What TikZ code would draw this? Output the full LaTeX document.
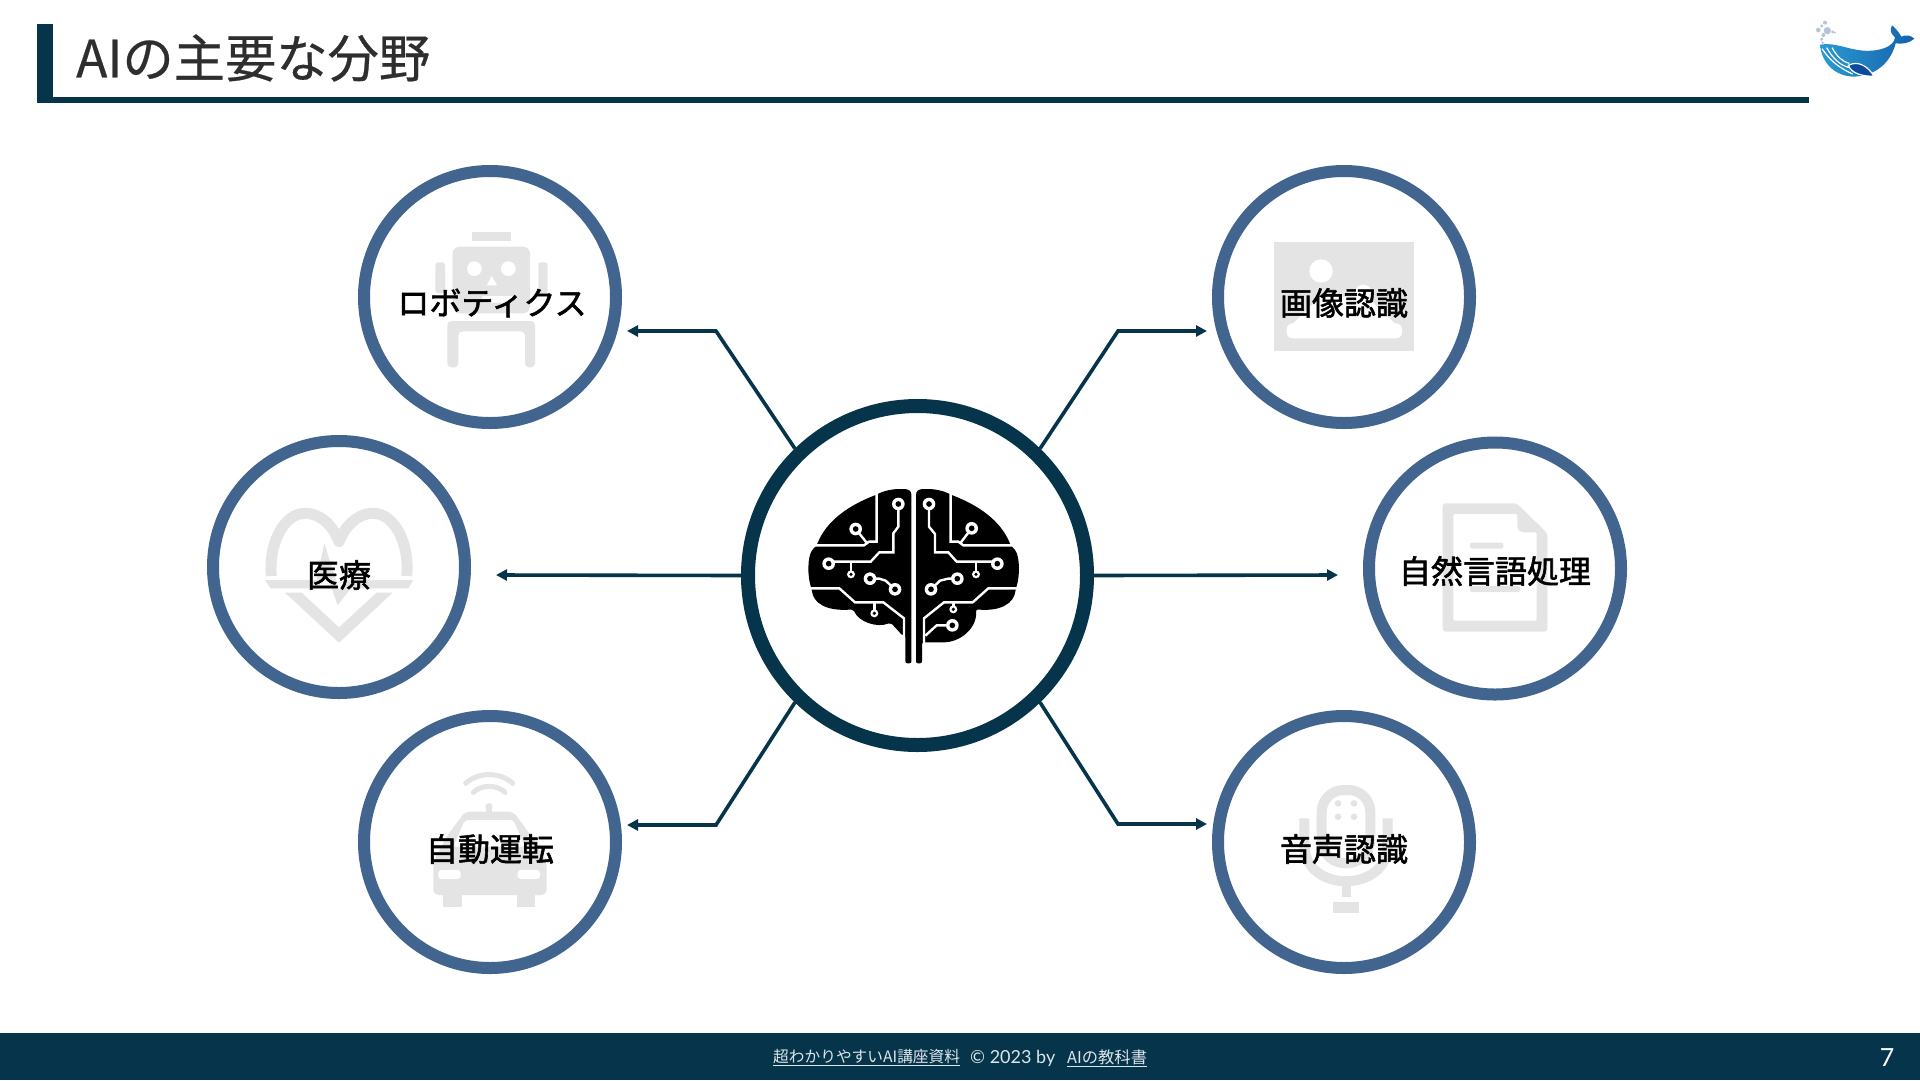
\documentclass[tikz,border=0pt]{standalone}
\usepackage{fontspec}
\usetikzlibrary{arrows.meta}
\setmainfont{Noto Sans CJK JP}
\newfontfamily\titlefont[FakeBold=0.5]{Noto Sans CJK JP}
\newfontfamily\labelfont[FakeBold=1.8]{Noto Sans CJK JP}
\newfontfamily\latinfont{Lato}
\definecolor{navy}{HTML}{06344B}
\definecolor{ringblue}{HTML}{41658F}
\definecolor{icongray}{HTML}{E4E4E4}
\definecolor{titleink}{HTML}{2E2E2E}
\definecolor{footink}{HTML}{DCE6EB}
\definecolor{whalelight}{HTML}{2A9AD2}
\definecolor{whalemid}{HTML}{0D62B4}
\definecolor{whaledark}{HTML}{0B4A9C}
\definecolor{spray}{HTML}{B9C3D8}
\tikzset{
 hubring/.style={circle,draw=navy,line width=14pt,fill=white,minimum size=339pt,inner sep=0pt},
 topicring/.style={circle,draw=ringblue,line width=12pt,fill=white,minimum size=252pt,inner sep=0pt},
 topiclabel/.style={font=\labelfont\fontsize{32}{38}\selectfont,text=black,inner sep=0pt},
 spoke/.style={draw=navy,line width=3.6pt,-{Triangle[length=11pt,width=11pt]}},
 footnote/.style={font=\fontsize{15.7}{20}\selectfont,text=footink,inner sep=0pt,anchor=west},
 circuit/.style={draw=white,line width=2.4pt},
 zoomed/.style={x=0.33333pt,y=-0.33333pt},
}
\newcommand{\ringpad}[3]{\fill[white] (#1,#2) circle (#3); \fill[black] (#1,#2) circle (#3*0.45);}
\begin{document}
\begin{tikzpicture}[x=1pt,y=-1pt]
\useasboundingbox (0,0) rectangle (1920,1080);
\fill[white] (0,0) rectangle (1920,1080);
% header
\fill[navy] (37,24) rectangle (53,103);
\fill[navy] (37,97) rectangle (1809,103);
\node[anchor=west,inner sep=0pt,text=titleink,font=\titlefont\fontsize{51.3}{60}\selectfont] (title) at (76,58) {AIの主要な分野};
% footer
\fill[navy] (0,1033) rectangle (1920,1080);
\node[footnote] (src) at (773,1058) {\underline{超わかりやすいAI講座資料}};
\node[footnote,font=\latinfont\fontsize{18}{20}\selectfont] (copy) at (970,1058) {© 2023 by};
\node[footnote,font=\fontsize{16.3}{20}\selectfont] (site) at (1067,1058) {\underline{AIの教科書}};
\node[inner sep=0pt,text=white,font=\latinfont\fontsize{25}{30}\selectfont] (page) at (1887,1058) {7};
% whale
\begin{scope}[shift={(1780,0)},zoomed]
 \foreach \px/\py/\pr in {135/68/6,125/78/5,115/90/7,142/92/11,158/96/5,130/105/6,125/118/5,165/98/3,128/128/4}{\fill[spray] (\px,\py) circle (\pr);}
 \shade[left color=whalelight,middle color=whalemid,right color=whaledark!70!whalelight]
   (120,134) .. controls (165,126) and (200,148) .. (250,152) .. controls (300,155) and (342,140) .. (345,112)
   .. controls (332,100) and (328,90) .. (336,76) .. controls (348,85) and (358,100) .. (364,110)
   .. controls (378,103) and (392,106) .. (403,116) .. controls (388,130) and (365,133) .. (347,130)
   .. controls (330,195) and (280,228) .. (220,230) .. controls (165,228) and (125,190) .. (120,134) -- cycle;
 \draw[white,line width=1.2pt] (126,146) .. controls (148,178) and (170,200) .. (218,222);
 \draw[white,line width=1.2pt] (140,143) .. controls (160,178) and (180,195) .. (208,203);
 \draw[white,line width=1.2pt] (156,143) .. controls (170,168) and (185,184) .. (208,190);
 \draw[white,line width=1.2pt,fill=whaledark] (205,196) .. controls (235,180) and (265,200) .. (282,229) .. controls (250,229) and (215,222) .. (205,196) -- cycle;
\end{scope}
% ring nodes
\node[topicring] (robot) at (490,297) {};
\node[topicring] (image) at (1344,297) {};
\node[topicring] (medical) at (339,567) {};
\node[topicring] (nlp) at (1495,568.5) {};
\node[topicring] (auto) at (490,842) {};
\node[topicring] (voice) at (1344,842) {};
\node[hubring] (hub) at (917.5,575.5) {};
% connector ends
\coordinate (bendA) at (716,331); \coordinate (endA) at (627,331);
\coordinate (bendB) at (1118,331); \coordinate (endB) at (1207,331);
\coordinate (endC) at (496,575); \coordinate (endD) at (1338,575);
\coordinate (bendE) at (716,825); \coordinate (endE) at (627,825);
\coordinate (bendF) at (1118,824); \coordinate (endF) at (1207,824);
\draw[spoke] (hub.134) -- (bendA) -- (endA);
\draw[spoke] (hub.46) -- (bendB) -- (endB);
\draw[spoke] (hub.180) -- (endC);
\draw[spoke] (hub.0) -- (endD);
\draw[spoke] (hub.226) -- (bendE) -- (endE);
\draw[spoke] (hub.314) -- (bendF) -- (endF);
% brain
\begin{scope}[shift={(720,390)},zoomed]
 \fill[black,rounded corners=2pt] (574,812) -- (574,320) .. controls (574,302) and (565,297) .. (545,297)
  .. controls (515,297) and (490,303) .. (467,315) .. controls (390,345) and (320,390) .. (290,466)
  -- (280,476) .. controls (262,500) and (262,560) .. (275,597) .. controls (280,640) and (320,665) .. (400,658)
  .. controls (415,695) and (470,715) .. (512,698) -- (548,737) -- (556,737) -- (556,820) -- (574,820) -- cycle;
 \fill[black,rounded corners=2pt] (588,820) -- (588,320) .. controls (588,302) and (597,297) .. (617,297)
  .. controls (647,297) and (672,303) .. (695,315) .. controls (772,345) and (842,390) .. (872,466)
  -- (882,476) .. controls (900,500) and (900,560) .. (887,597) .. controls (882,640) and (842,665) .. (768,658)
  .. controls (772,715) and (720,757) .. (665,757) -- (606,757) -- (606,820) -- cycle;
 % left circuit
 \draw[circuit] (470,312) -- (470,455) -- (447,455) -- (432,466) -- (285,466);
 \draw[circuit] (440,458) -- (407,417);
 \draw[circuit] (535,342) -- (535,410) -- (520,430) -- (520,487) -- (478,487) -- (452,515) -- (326,515);
 \draw[circuit] (393,515) -- (393,553);
 \draw[circuit] (450,566) -- (478,566) -- (497,572) -- (525,598);
 \draw[circuit] (270,595) -- (358,595) -- (405,637) -- (490,637) -- (552,685) -- (552,745);
 \draw[circuit] (463,637) -- (463,670);
 % right circuit
 \draw[circuit] (692,312) -- (692,455) -- (715,455) -- (730,466) -- (878,466);
 \draw[circuit] (722,458) -- (755,415);
 \draw[circuit] (627,342) -- (627,410) -- (645,432) -- (645,487) -- (685,487) -- (710,515) -- (832,515);
 \draw[circuit] (768,515) -- (768,553);
 \draw[circuit] (712,566) -- (684,566) -- (660,572) -- (633,598);
 \draw[circuit] (892,595) -- (805,595) -- (758,637) -- (672,637) -- (612,685) -- (612,760);
 \draw[circuit] (700,637) -- (700,658);
 \draw[circuit] (616,737) -- (650,706) -- (697,706);
 \foreach \cx/\cy in {407/417,535/342,326/521,450/566,525/598,755/415,627/342,832/521,712/566,633/598,697/706}{\ringpad{\cx}{\cy}{19}}
 \foreach \cx/\cy in {393/553,463/670,768/553,700/658}{\ringpad{\cx}{\cy}{12}}
\end{scope}
% robot icon
\begin{scope}[shift={(350,160)},zoomed]
 \fill[icongray] (365,215) rectangle (482,243);
 \fill[icongray,rounded corners=7pt] (308,260) rectangle (540,460);
 \fill[icongray,rounded corners=3pt] (256,307) rectangle (285,400);
 \fill[icongray,rounded corners=3pt] (565,307) rectangle (593,400);
 \fill[white] (373,326) circle (22); \fill[white] (475,326) circle (22);
 \fill[white] (425,348) -- (410,376) -- (441,376) -- cycle;
 \fill[white,rounded corners=2pt] (395,408) rectangle (490,428);
 \fill[icongray,rounded corners=4pt] (292,622) -- (292,483) -- (555,483) -- (555,622) -- (525,622) -- (525,514) -- (325,514) -- (325,622) -- cycle;
\end{scope}
% image icon
\begin{scope}[shift={(1210,160)},zoomed]
 \fill[icongray] (192,245) rectangle (613,573);
 \fill[white] (333,333) circle (35);
 \fill[white] (460,400) circle (26);
 \fill[white] (330,410) -- (240,500) -- (565,500) -- (470,410) -- cycle;
 \fill[white,rounded corners=6pt] (230,490) rectangle (576,535);
\end{scope}
% document icon
\begin{scope}[shift={(1360,430)},zoomed]
 \fill[icongray,rounded corners=3pt] (248,220) -- (470,220) -- (562,310) -- (562,605) -- (248,605) -- cycle;
 \fill[white,rounded corners=2pt] (280,252) -- (472,252) -- (472,285) .. controls (472,300) and (480,307) .. (495,307) -- (530,307) -- (530,572) -- (280,572) -- cycle;
 \fill[icongray,rounded corners=2pt] (330,338) rectangle (430,356);
 \fill[icongray,rounded corners=2pt] (330,468) rectangle (480,486);
\end{scope}
% heart icon
\begin{scope}[shift={(200,430)},zoomed]
 \draw[icongray,line width=11pt,line join=round] (214,438) .. controls (205,345) and (250,250) .. (315,250) .. controls (365,250) and (400,290) .. (417,335) .. controls (435,290) and (470,250) .. (520,250) .. controls (585,250) and (630,345) .. (620,438);
 \fill[icongray] (195,450) -- (350,450) -- (373,340) -- (417,480) -- (440,450) -- (640,450) -- (625,475) -- (453,475) -- (413,525) -- (372,410) -- (358,475) -- (212,475) -- cycle;
 \fill[icongray] (255,488) -- (305,488) -- (417,592) -- (530,488) -- (578,488) -- (417,638) -- cycle;
\end{scope}
% car icon
\begin{scope}[shift={(350,705)},zoomed]
 \draw[icongray,line width=5pt,line cap=round] (347,235) .. controls (385,200) and (450,200) .. (488,235);
 \draw[icongray,line width=5pt,line cap=round] (370,262) .. controls (395,238) and (440,238) .. (465,262);
 \fill[icongray] (417,305) circle (11); \fill[icongray] (408,305) rectangle (427,322);
 \fill[icongray,rounded corners=5pt] (345,320) -- (490,320) -- (545,395) -- (590,470) -- (590,570) -- (250,570) -- (250,470) -- (290,395) -- cycle;
 \fill[white,rounded corners=3pt] (345,345) -- (490,345) -- (525,425) -- (310,425) -- cycle;
 \fill[white,rounded corners=3pt] (265,495) rectangle (332,522);
 \fill[white,rounded corners=3pt] (503,495) rectangle (570,522);
 \fill[icongray] (280,570) rectangle (335,607);
 \fill[icongray] (500,570) rectangle (555,607);
 \fill[white] (335,572) rectangle (385,590);
 \fill[white] (450,572) rectangle (500,590);
\end{scope}
% mic icon
\begin{scope}[shift={(1210,705)},zoomed]
 \draw[icongray,line width=10pt,rounded corners=22pt] (335,400) -- (335,255) -- (481,255) -- (481,400);
 \draw[icongray,line width=10pt] (335,400) .. controls (335,500) and (481,500) .. (481,400);
 \draw[icongray,line width=10pt] (283,340) -- (283,420) .. controls (283,565) and (533,565) .. (533,420) -- (533,340);
 \foreach \dx/\dy in {384/295,432/295,384/335,432/335}{\fill[icongray] (\dx,\dy) circle (10);}
 \fill[icongray] (395,535) rectangle (422,575);
 \fill[icongray] (370,592) rectangle (448,625);
\end{scope}
% labels
\node[topiclabel] (robotText) at (492,303) {ロボティクス};
\node[topiclabel] (imageText) at (1344,303) {画像認識};
\node[topiclabel] (nlpText) at (1495,571) {自然言語処理};
\node[topiclabel] (medicalText) at (339,575) {医療};
\node[topiclabel] (autoText) at (490,849) {自動運転};
\node[topiclabel] (voiceText) at (1344,849) {音声認識};
\end{tikzpicture}
\end{document}
